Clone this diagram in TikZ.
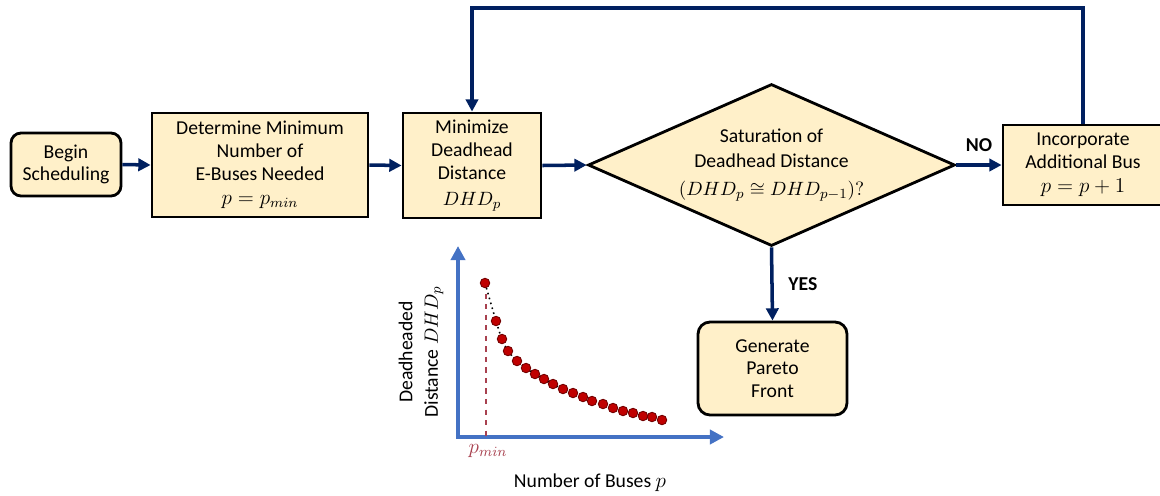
\documentclass[tikz,border=0pt]{standalone}
\usepackage{amsmath}
\usepackage{fontspec}
\setmainfont{Carlito}
\usetikzlibrary{shapes.geometric,arrows.meta}
\definecolor{boxfill}{HTML}{FFF0C9}
\definecolor{flowblue}{HTML}{002060}
\definecolor{axisblue}{HTML}{4472C4}
\definecolor{dotred}{HTML}{C00000}
\definecolor{pminred}{HTML}{A8414F}
\newcommand{\bigmath}[1]{{\fontsize{12}{13}\selectfont$#1$}}
\newcommand{\dhdmath}[1]{{\fontsize{11}{12}\selectfont$#1$}}
\tikzset{
  box/.style={draw=black,line width=1.6pt,fill=boxfill,align=center,inner sep=0pt,
    font=\fontsize{11.2}{12.9}\selectfont},
  flow/.style={draw=flowblue,line width=2pt,-{Triangle[length=7pt,width=7pt]}},
  axis/.style={draw=axisblue,line width=2.2pt,{Triangle[length=8pt,width=8pt]}-{Triangle[length=8pt,width=8pt]}},
}
\begin{document}
\begin{tikzpicture}[x=0.02cm,y=-0.02cm]
\useasboundingbox (0,0) rectangle (1160,495);
\node[box,rounded corners=0.2cm,minimum width=2.2cm,minimum height=1.26cm] (begin) at (66,164.5) {Begin\\Scheduling};
\node[box,minimum width=4.32cm,minimum height=2.08cm] (det) at (260,165) {Determine Minimum\\Number of\\E-Buses Needed\\[1pt]\bigmath{p=p_{min}}};
\node[box,minimum width=2.76cm,minimum height=2.1cm] (mini) at (472,165.5) {Minimize\\Deadhead\\Distance\\[2pt]\dhdmath{DHD_p}};
\node[box,diamond,aspect=2.27,minimum width=7.34cm,minimum height=3.24cm,font=\fontsize{11.2}{14}\selectfont] (sat) at (771.5,165) {Saturation of\\Deadhead Distance\\[2pt]\dhdmath{(DHD_p\cong DHD_{p-1})?}};
\node[box,minimum width=3.2cm,minimum height=1.6cm] (inc) at (1083,165) {Incorporate\\Additional Bus\\[1pt]\bigmath{p=p+1}};
\node[box,rounded corners=0.24cm,minimum width=2.98cm,minimum height=1.86cm] (gen) at (772.5,368.5) {Generate\\Pareto\\Front};
\coordinate (top) at (777,8);
\draw[flow] (begin.east) -- (det.west);
\draw[flow] (det.east) -- (mini.west);
\draw[flow] (mini.east) -- (sat.west);
\draw[flow] (sat.east) -- node[above=3pt,font=\fontsize{11.2}{13}\selectfont\bfseries] {NO} (inc.west);
\draw[flow] (sat.south) -- node[right=5pt,font=\fontsize{11.2}{13}\selectfont\bfseries] {YES} (gen.north);
\draw[flow] (inc.north) |- (top) -| (mini.north);
\draw[axis] (458,246) -- (458,437) -- (724,437);
\draw[pminred,dashed,line width=0.8pt] (486,283) -- (486,437);
\draw[black,dotted,line width=0.9pt] plot[smooth] coordinates {(485,283) (496,321) (502,339) (508,351) (517,361) (526,368) (535,374) (544,379) (553,384) (563,389) (573,393) (583,397) (592,401) (603,404) (613,408) (623,411) (633,413) (643,416) (652,417) (662,420)};
\foreach \p in {(485,283),(496,321),(502,339),(508,351),(517,361),(526,368),(535,374),(544,379),(553,384),(563,389),(573,393),(583,397),(592,401),(603,404),(613,408),(623,411),(633,413),(643,416),(652,417),(662,420)}
  \fill[dotred,draw=dotred!60!black,line width=0.5pt] \p circle (2.7pt);
\node[text=pminred,font=\fontsize{12}{14}\selectfont] (pmin) at (488,451) {$p_{min}$};
\node[font=\fontsize{11.2}{13}\selectfont] (xlab) at (590,483) {Number of Buses \bigmath{p}};
\node[rotate=90,align=center,font=\fontsize{11.2}{14.5}\selectfont] (ylab) at (421,352) {Deadheaded\\Distance \dhdmath{DHD_p}};
\end{tikzpicture}
\end{document}
